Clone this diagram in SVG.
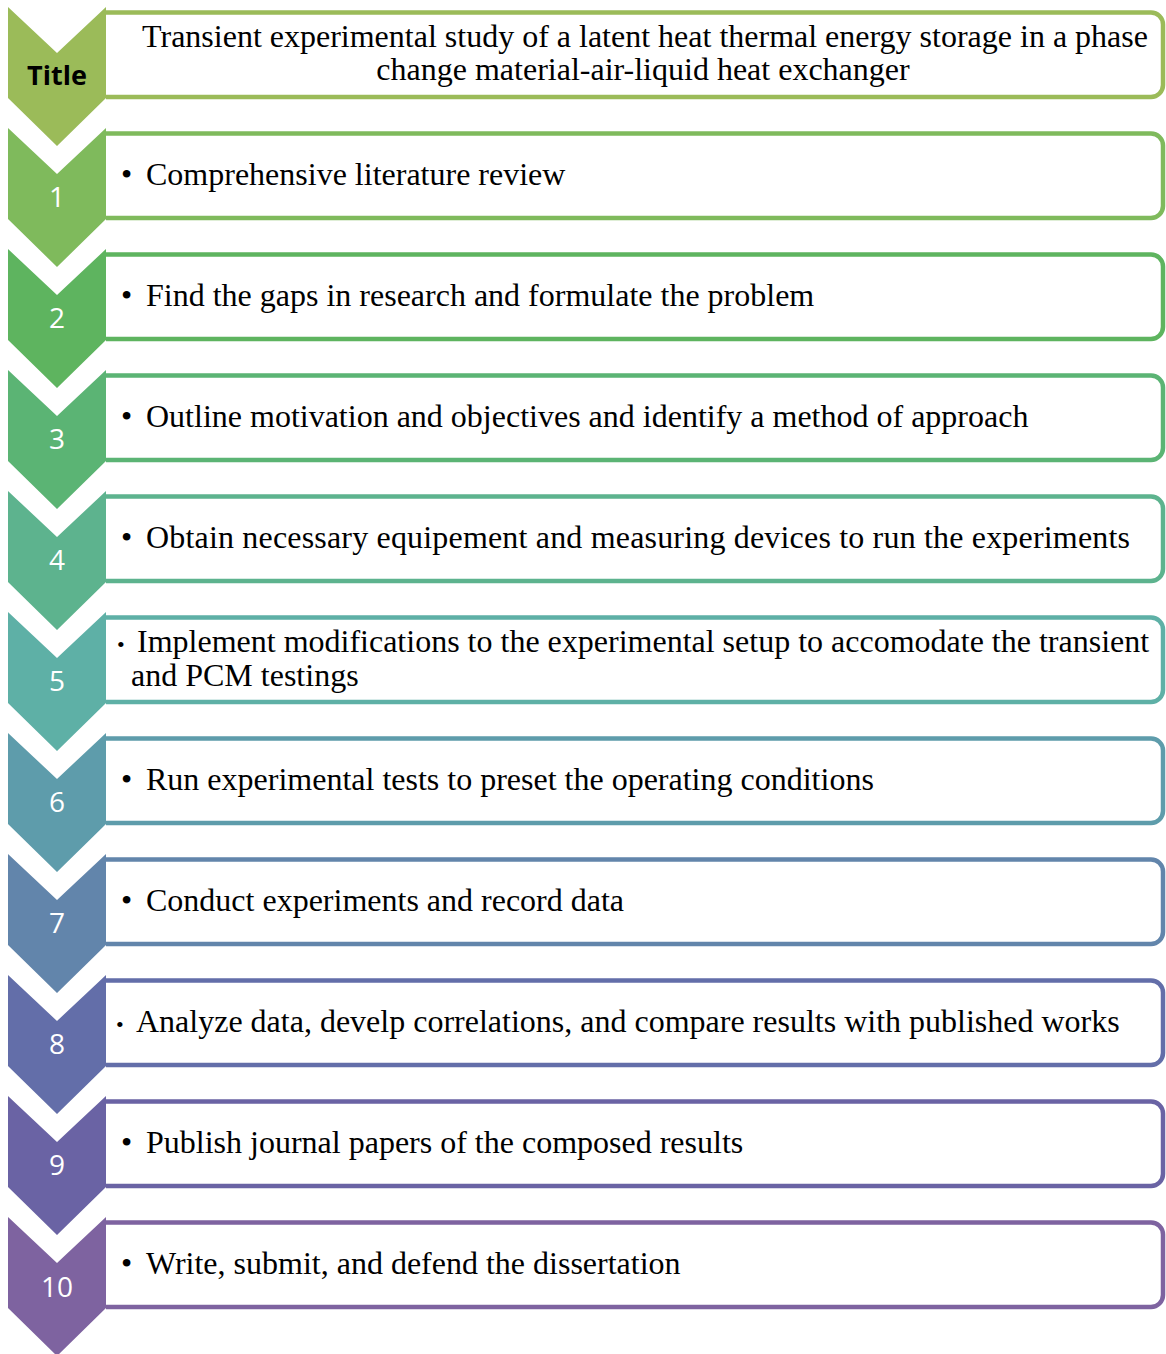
<svg xmlns="http://www.w3.org/2000/svg" width="1166" height="1354" viewBox="0 0 1166 1354">
  <defs>
    <!-- chevron marker shape, drawn from its top edge -->
    <path id="chev" d="M8,0 L57,46 L106,0 V91 L57,139 L8,91 Z"/>
    <!-- open-ended rounded box; its left edge sits under the chevron -->
    <path id="box" d="M106,5.5 H1151 A12,12 0 0 1 1163,17.5 V78 A12,12 0 0 1 1151,90 H106"/>
  </defs>
  <style>
    .box { fill: #ffffff; stroke-width: 4.5; }
    .txt { font-family: "Liberation Serif", "Times New Roman", serif; font-size: 32px; fill: #000000; }
    .sb { font-family: "Liberation Serif", "Times New Roman", serif; font-size: 22px; fill: #000000; }
    .num { font-family: "Open Sans", "Noto Sans", sans-serif; font-size: 28px; fill: #ffffff; text-anchor: middle; }
    .ttl { font-family: "Open Sans", "Noto Sans", sans-serif; font-size: 27px; font-weight: bold; fill: #000000; text-anchor: middle; }
  </style>
  <rect width="1166" height="1354" fill="#ffffff"/>

  <g id="connectors"></g>

  <g id="step-title" transform="translate(0,7)">
    <use href="#box" class="box" stroke="#9BBB59"/>
    <use href="#chev" fill="#9BBB59"/>
    <text class="ttl" x="57" y="78">Title</text>
    <text class="txt" x="645" y="40" text-anchor="middle">Transient experimental study of a latent heat thermal energy storage in a phase</text>
    <text class="txt" x="643" y="73" text-anchor="middle">change material-air-liquid heat exchanger</text>
  </g>

  <g id="step-1" transform="translate(0,128)">
    <use href="#box" class="box" stroke="#7FBA5C"/>
    <use href="#chev" fill="#7FBA5C"/>
    <text class="num" x="57" y="79">1</text>
    <text class="txt" x="121" y="57">•</text>
    <text class="txt" x="146" y="57">Comprehensive literature review</text>
  </g>

  <g id="step-2" transform="translate(0,249)">
    <use href="#box" class="box" stroke="#5EB45F"/>
    <use href="#chev" fill="#5EB45F"/>
    <text class="num" x="57" y="79">2</text>
    <text class="txt" x="121" y="57">•</text>
    <text class="txt" x="146" y="57">Find the gaps in research and formulate the problem</text>
  </g>

  <g id="step-3" transform="translate(0,370)">
    <use href="#box" class="box" stroke="#5BB474"/>
    <use href="#chev" fill="#5BB474"/>
    <text class="num" x="57" y="79">3</text>
    <text class="txt" x="121" y="57">•</text>
    <text class="txt" x="146" y="57">Outline motivation and objectives and identify a method of approach</text>
  </g>

  <g id="step-4" transform="translate(0,491)">
    <use href="#box" class="box" stroke="#5DB38E"/>
    <use href="#chev" fill="#5DB38E"/>
    <text class="num" x="57" y="79">4</text>
    <text class="txt" x="121" y="57">•</text>
    <text class="txt" x="146" y="57" textLength="984" lengthAdjust="spacing">Obtain necessary equipement and measuring devices to run the experiments</text>
  </g>

  <g id="step-5" transform="translate(0,612)">
    <use href="#box" class="box" stroke="#5EB0A6"/>
    <use href="#chev" fill="#5EB0A6"/>
    <text class="num" x="57" y="79">5</text>
    <text class="sb" x="117" y="40">•</text>
    <text class="txt" x="137" y="40">Implement modifications to the experimental setup to accomodate the transient</text>
    <text class="txt" x="131" y="74">and PCM testings</text>
  </g>

  <g id="step-6" transform="translate(0,733)">
    <use href="#box" class="box" stroke="#5E9CAB"/>
    <use href="#chev" fill="#5E9CAB"/>
    <text class="num" x="57" y="79">6</text>
    <text class="txt" x="121" y="57">•</text>
    <text class="txt" x="146" y="57">Run experimental tests to preset the operating conditions</text>
  </g>

  <g id="step-7" transform="translate(0,854)">
    <use href="#box" class="box" stroke="#6285AB"/>
    <use href="#chev" fill="#6285AB"/>
    <text class="num" x="57" y="79">7</text>
    <text class="txt" x="121" y="57">•</text>
    <text class="txt" x="146" y="57">Conduct experiments and record data</text>
  </g>

  <g id="step-8" transform="translate(0,975)">
    <use href="#box" class="box" stroke="#636EA9"/>
    <use href="#chev" fill="#636EA9"/>
    <text class="num" x="57" y="79">8</text>
    <text class="sb" x="116" y="57">•</text>
    <text class="txt" x="136" y="57">Analyze data, develp correlations, and compare results with published works</text>
  </g>

  <g id="step-9" transform="translate(0,1096)">
    <use href="#box" class="box" stroke="#6A63A4"/>
    <use href="#chev" fill="#6A63A4"/>
    <text class="num" x="57" y="79">9</text>
    <text class="txt" x="121" y="57">•</text>
    <text class="txt" x="146" y="57">Publish journal papers of the composed results</text>
  </g>

  <g id="step-10" transform="translate(0,1217)">
    <use href="#box" class="box" stroke="#7E63A0"/>
    <use href="#chev" fill="#7E63A0"/>
    <text class="num" x="57" y="80">10</text>
    <text class="txt" x="121" y="57">•</text>
    <text class="txt" x="146" y="57">Write, submit, and defend the dissertation</text>
  </g>
</svg>
